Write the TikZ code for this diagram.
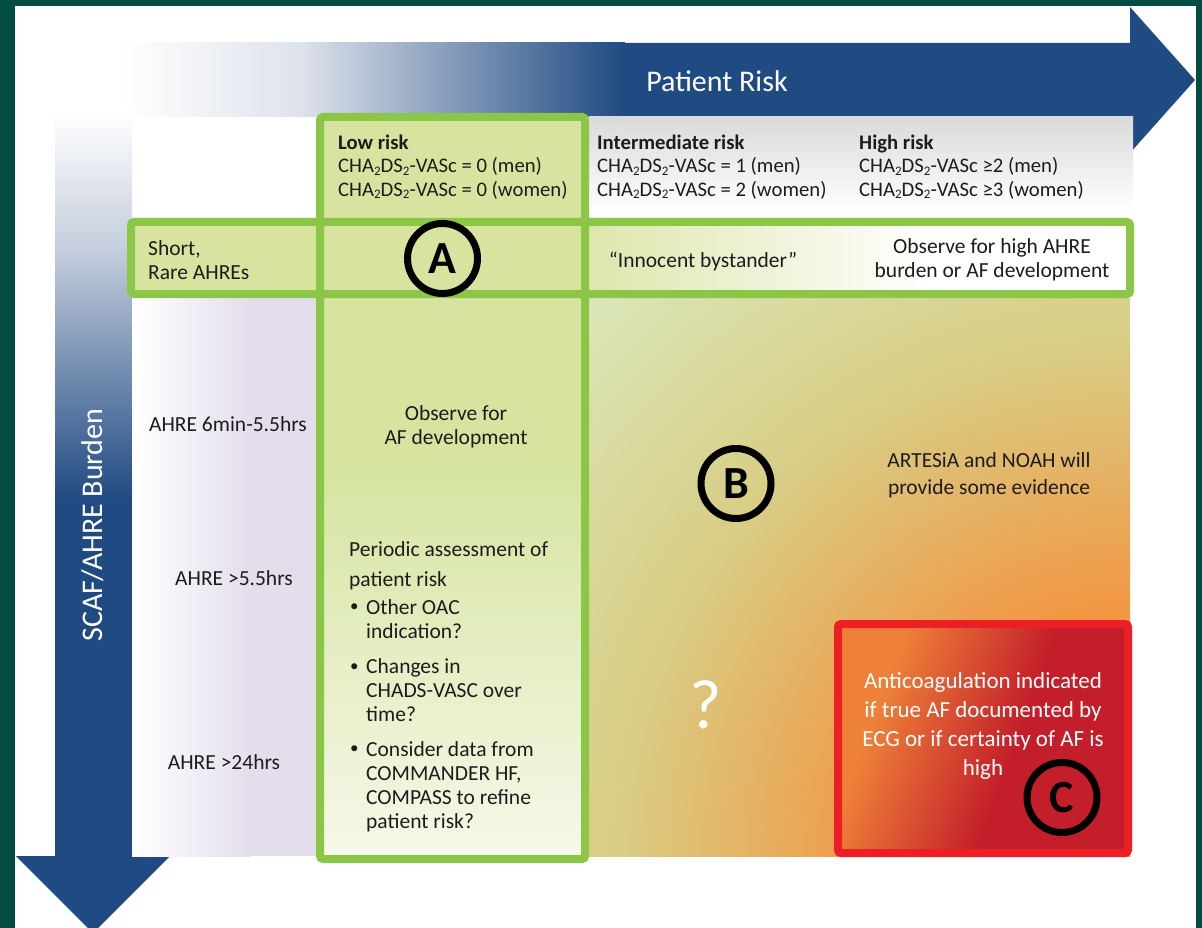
\documentclass[tikz,border=0pt]{standalone}
\usepackage{fontspec}
\setmainfont{Carlito}
\definecolor{framegreen}{RGB}{2,77,66}
\definecolor{riskblue}{RGB}{31,74,130}
\definecolor{mistblue}{RGB}{222,227,235}
\definecolor{steelblue}{RGB}{196,205,220}
\definecolor{lime}{RGB}{140,198,70}
\definecolor{limefill}{RGB}{214,228,160}
\definecolor{limepale}{RGB}{245,249,234}
\definecolor{lilac}{RGB}{228,222,236}
\definecolor{headgray}{RGB}{218,218,218}
\definecolor{paleleaf}{RGB}{218,233,190}
\definecolor{ochre}{RGB}{216,205,132}
\definecolor{amber}{RGB}{244,146,62}
\definecolor{alarmred}{RGB}{236,30,38}
\definecolor{emberorange}{RGB}{238,128,56}
\definecolor{emberred}{RGB}{195,30,42}
\definecolor{inkgray}{RGB}{28,28,28}

% warm glow of the high-burden / high-risk corner
\pgfdeclareradialshading{burdenglow}{\pgfpoint{0bp}{0bp}}{%
  color(0bp)=(amber); color(7bp)=(amber); color(16bp)=(ochre);
  color(25bp)=(paleleaf); color(50bp)=(paleleaf)}
% orange-to-red fill of the anticoagulation box
\pgfdeclarehorizontalshading{emberfade}{100bp}{%
  color(0bp)=(emberorange); color(30bp)=(emberorange);
  color(56bp)=(emberred); color(100bp)=(emberred)}

\newcommand\subtwo{\raisebox{-0.22ex}{\fontsize{13}{13}\selectfont 2}}
\newcommand\chads{CHA\subtwo DS\subtwo-VASc}

\tikzset{
  txt/.style={inner sep=0pt, text=inkgray, font=\fontsize{21.5}{24}\selectfont},
  headtxt/.style={txt, anchor=west, align=left, font=\fontsize{20.7}{23.5}\selectfont},
  dotmark/.style={inner sep=0pt, text=inkgray, anchor=west, font=\fontsize{17}{17}\selectfont},
  limeborder/.style={draw=lime, line width=8pt, rounded corners=3pt},
  badge/.style={circle, draw=black, line width=7pt, minimum size=70pt, inner sep=0pt,
    text=black, font=\fontsize{46}{46}\selectfont\bfseries},
  axislabel/.style={inner sep=0pt, text=white, font=\fontsize{30}{30}\selectfont},
}

\begin{document}
\begin{tikzpicture}[x=1pt, y=-1pt]
\path[use as bounding box, clip] (0,0) rectangle (1202,928);

% frame and page
\fill[framegreen] (0,0) rectangle (1202,928);
\fill[white] (15,6) rectangle (1196,928);

% horizontal axis arrow: Patient Risk
\shade[left color=white, right color=mistblue] (120,43) rectangle (300,117);
\shade[left color=mistblue, right color=riskblue] (299.5,43) rectangle (625,117);
\fill[riskblue] (624.5,43) -- (1130,43) -- (1130,7) -- (1195,80) -- (1130,153)
  -- (1130,117) -- (624.5,117) -- cycle;

% vertical axis arrow: SCAF/AHRE Burden
\shade[top color=white, bottom color=steelblue] (55,110) rectangle (132,250);
\shade[top color=steelblue, bottom color=riskblue] (55,249.5) rectangle (132,500);
\fill[riskblue] (55,499.5) -- (132,499.5) -- (132,856) -- (170,856) -- (93,933)
  -- (16,856) -- (55,856) -- cycle;

% header band under the arrow
\shade[top color=headgray, bottom color=white] (589,117) rectangle (1133,212);

% burden labels column
\shade[left color=white, right color=lilac] (132,298) rectangle (250,856);
\fill[lilac] (249.5,298) rectangle (316,856);

% intermediate / high risk field
\begin{scope}
  \clip (589,298) rectangle (1130,856);
  \shade[shading=burdenglow] (1130,856) circle[radius=800pt];
\end{scope}

% low-risk column and short-AHRE row fills
\fill[limefill] (320,117) rectangle (585,470);
\shade[top color=limefill, bottom color=limepale] (320,469.5) rectangle (585,859);
\fill[limefill] (131,222) rectangle (320,294);
\shade[left color=limefill!88!white, right color=white] (585,222) rectangle (930,294);

% green outlines
\draw[limeborder] (320,117) rectangle (585,859);
\draw[limeborder] (131,222) rectangle (1130,294);

% anticoagulation box
\shade[shading=emberfade, shading angle=-20] (838,624) rectangle (1128,853);
\draw[draw=alarmred, line width=8pt, rounded corners=3pt] (838,624) rectangle (1128,853);

% axis titles
\node[axislabel] (riskaxis) at (717,81) {Patient Risk};
\node[axislabel, rotate=90] (burdenaxis) at (93,525) {SCAF/AHRE Burden};

% risk categories
\node[headtxt] (lowhead) at (338,167)
  {\textbf{Low risk}\\\chads{} = 0 (men)\\\chads{} = 0 (women)};
\node[headtxt] (midhead) at (597,167)
  {\textbf{Intermediate risk}\\\chads{} = 1 (men)\\\chads{} = 2 (women)};
\node[headtxt] (highhead) at (859,167)
  {\textbf{High risk}\\\chads{} ≥2 (men)\\\chads{} ≥3 (women)};

% burden categories
\node[txt, anchor=west, align=left] (shortrare) at (148,260) {Short,\\Rare AHREs};
\node[txt] (sixmin) at (228,424) {AHRE 6min-5.5hrs};
\node[txt] (fivehrs) at (234,578) {AHRE >5.5hrs};
\node[txt] (dayhrs) at (224,762) {AHRE >24hrs};

% short, rare AHRE row
\node[badge] (markA) at (442.5,258.5) {A};
\node[txt] (bystander) at (703,261) {“Innocent bystander”};
\node[txt, align=center] (observehigh) at (992,260)
  {Observe for high AHRE\\burden or AF development};

% low-risk column
\node[txt, align=center] (observeaf) at (456,427) {Observe for\\AF development};
\node[txt, anchor=west, align=left, font=\fontsize{21.5}{30}\selectfont] (periodic)
  at (349,566) {Periodic assessment of\\patient risk};
\node[dotmark] (dot1) at (350,608) {•};
\node[txt, anchor=west, align=left] (item1) at (366,619) {Other OAC\\indication?};
\node[dotmark] (dot2) at (350,668) {•};
\node[txt, anchor=west, align=left] (item2) at (366,690) {Changes in\\CHADS-VASC over\\time?};
\node[dotmark] (dot3) at (350,750) {•};
\node[txt, anchor=west, align=left] (item3) at (366,787)
  {Consider data from\\COMMANDER HF,\\COMPASS to refine\\patient risk?};

% intermediate / high field
\node[badge] (markB) at (736,483.5) {B};
\node[txt, align=center, font=\fontsize{21.5}{27}\selectfont] (trials) at (989,475)
  {ARTESiA and NOAH will\\provide some evidence};
\node[txt, text=white, font=\fontsize{70}{70}\selectfont] (unknown) at (706,705) {?};
\node[txt, align=center, text=white, font=\fontsize{23}{29}\selectfont] (anticoag)
  at (983,726) {Anticoagulation indicated\\if true AF documented by\\ECG or if certainty of AF is\\high};
\node[badge] (markC) at (1062,797.5) {C};
\end{tikzpicture}
\end{document}
